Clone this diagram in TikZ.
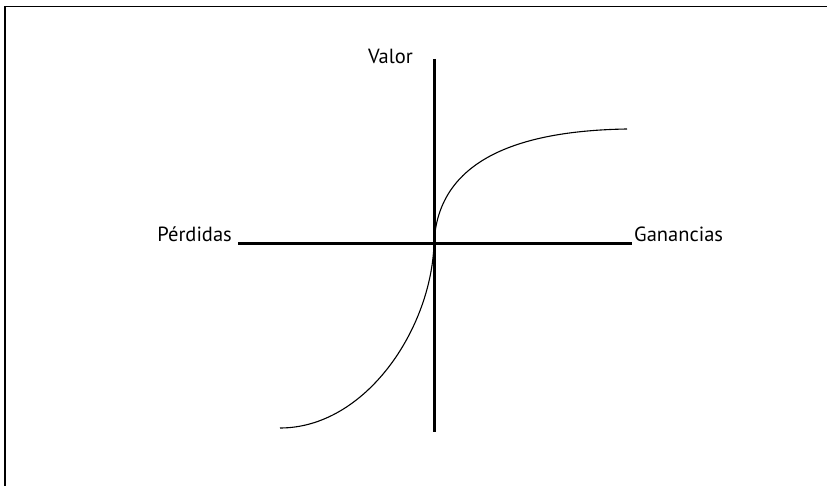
\documentclass[tikz,border=0pt]{standalone}
\usepackage{fontspec}
\setmainfont{PT Sans}
\tikzset{
  eje/.style={line width=3pt},
  curva/.style={line width=1.1pt},
  etiq/.style={font=\fontsize{20.5}{22}\selectfont, inner sep=0pt}
}
\begin{document}
\begin{tikzpicture}[x=1pt,y=-1pt]
\useasboundingbox (0,0) rectangle (827,486);
\draw[line width=1.5pt] (5,486) -- (5,6.5) -- (827,6.5);

\coordinate (o) at (434,244);
\coordinate (izq) at (238,244);
\coordinate (der) at (632,244);
\coordinate (arr) at (434,59);
\coordinate (abj) at (434,432);
\coordinate (ini) at (280,428);
\coordinate (fin) at (627,129);

\draw[eje] (izq) -- (der);
\draw[eje] (arr) -- (abj);
\draw[curva] (ini) .. controls (365,428) and (431,330) .. (o)
  .. controls (437,170) and (500,131) .. (fin);

\node[etiq, anchor=base east] (perdidas) at ([xshift=-6pt,yshift=2pt]izq) {Pérdidas};
\node[etiq, anchor=base west] (ganancias) at ([xshift=2pt,yshift=2pt]der) {Ganancias};
\node[etiq, anchor=base east] (valor) at ([xshift=-21pt,yshift=-5pt]arr) {Valor};
\end{tikzpicture}
\end{document}
